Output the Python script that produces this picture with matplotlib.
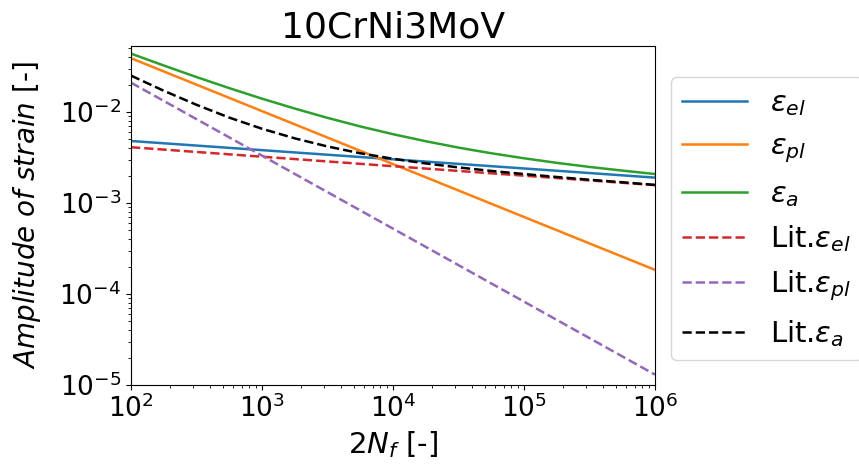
import matplotlib
matplotlib.use("Agg")
import matplotlib.pyplot as plt

# straight lines only need their end points
n_ends = [1e2, 1e6]
eps_el = [4.80e-3, 1.90e-3]
eps_pl = [3.90e-2, 1.84e-4]
lit_el = [4.10e-3, 1.57e-3]
lit_pl = [2.10e-2, 1.30e-5]

# total strain curves, quarter-decade steps
n_cycles = [1.00e2, 1.78e2, 3.16e2, 5.62e2, 1.00e3, 1.78e3, 3.16e3, 5.62e3, 1.00e4,
            1.78e4, 3.16e4, 5.62e4, 1.00e5, 1.78e5, 3.16e5, 5.62e5, 1.00e6]
eps_a = [4.38e-2, 3.24e-2, 2.42e-2, 1.83e-2, 1.40e-2, 1.09e-2, 8.62e-3, 6.94e-3, 5.70e-3,
         4.77e-3, 4.06e-3, 3.52e-3, 3.10e-3, 2.76e-3, 2.49e-3, 2.27e-3, 2.08e-3]
lit_a = [2.51e-2, 1.71e-2, 1.20e-2, 8.68e-3, 6.54e-3, 5.13e-3, 4.18e-3, 3.52e-3, 3.06e-3,
         2.72e-3, 2.46e-3, 2.25e-3, 2.08e-3, 1.93e-3, 1.80e-3, 1.69e-3, 1.58e-3]

fig = plt.figure(figsize=(8.59, 4.67), dpi=100)
ax = fig.add_axes([0.1525, 0.1756, 0.61, 0.7259])

ax.plot(n_ends, eps_el, color="C0", lw=1.8, label=r"$\varepsilon_{el}$")
ax.plot(n_ends, eps_pl, color="C1", lw=1.8, label=r"$\varepsilon_{pl}$")
ax.plot(n_cycles, eps_a, color="C2", lw=1.8, label=r"$\varepsilon_{a}$")
ax.plot(n_ends, lit_el, color="C3", ls="--", lw=1.8, label=r"Lit.$\varepsilon_{el}$")
ax.plot(n_ends, lit_pl, color="C4", ls="--", lw=1.8, label=r"Lit.$\varepsilon_{pl}$")
ax.plot(n_cycles, lit_a, color="black", ls="--", lw=1.8, label=r"Lit.$\varepsilon_{a}$")

ax.set_xscale("log")
ax.set_yscale("log")
ax.set_xlim(1e2, 1e6)
ax.set_ylim(1e-5, 10 ** -1.275)
ax.tick_params(labelsize=19)

ax.set_title("10CrNi3MoV", fontsize=26)
ax.set_xlabel(r"$2N_f$ [-]", fontsize=21)
ax.set_ylabel(r"$Amplitude\ of\ strain$ [-]", fontsize=20, labelpad=12)

ax.legend(loc="center left", bbox_to_anchor=(1.03, 0.49), fontsize=21,
          handlelength=2.2, borderaxespad=0)

fig.savefig("out.png", dpi=100)
